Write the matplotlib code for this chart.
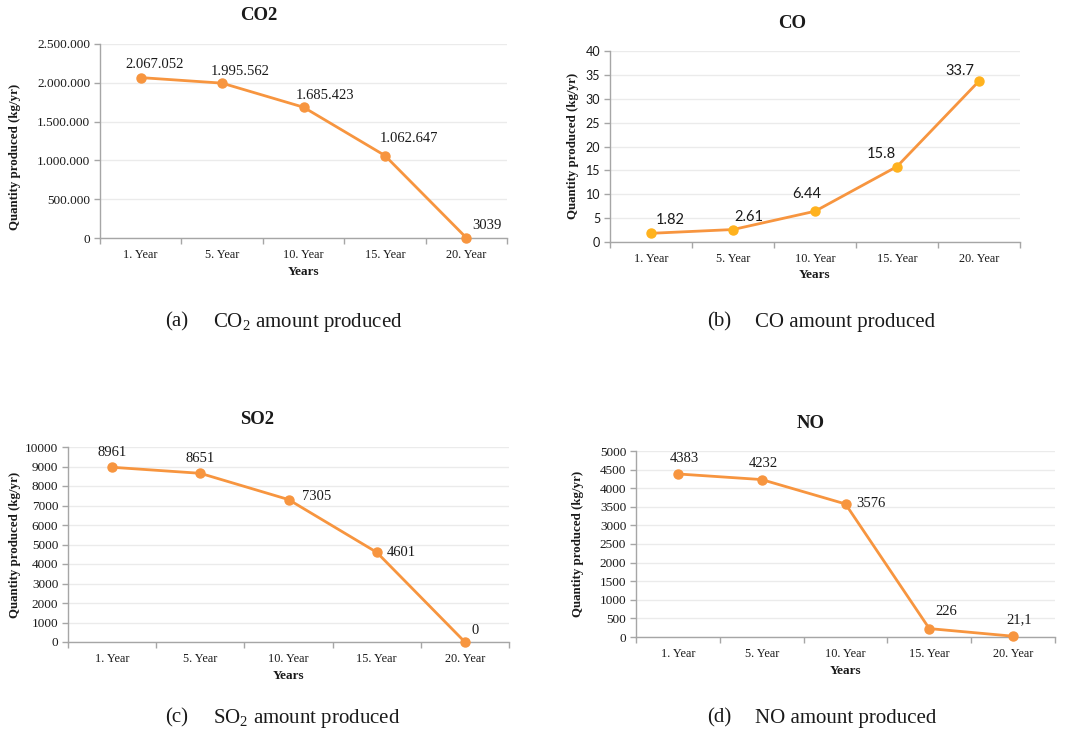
import matplotlib
matplotlib.use("Agg")
import matplotlib.pyplot as plt
from matplotlib.ticker import FixedLocator

plt.rcParams['font.family'] = ['Liberation Serif', 'DejaVu Serif']
plt.rcParams['mathtext.fontset'] = 'custom'
plt.rcParams['mathtext.rm'] = 'Liberation Serif'

# ---------------- data ----------------
categories = ["1. Year", "5. Year", "10. Year", "15. Year", "20. Year"]

co2_values = [2067052, 1995562, 1685423, 1062647, 3039]
co2_labels = ["2.067.052", "1.995.562", "1.685.423", "1.062.647", "3039"]
co2_yticks = [0, 500000, 1000000, 1500000, 2000000, 2500000]
co2_yticklabels = ["0", "500.000", "1.000.000", "1.500.000", "2.000.000", "2.500.000"]

co_values = [1.82, 2.61, 6.44, 15.8, 33.7]
co_labels = ["1.82", "2.61", "6.44", "15.8", "33.7"]
co_yticks = [0, 5, 10, 15, 20, 25, 30, 35, 40]
co_yticklabels = ["0", "5", "10", "15", "20", "25", "30", "35", "40"]

so2_values = [8961, 8651, 7305, 4601, 0]
so2_labels = ["8961", "8651", "7305", "4601", "0"]
so2_yticks = [0, 1000, 2000, 3000, 4000, 5000, 6000, 7000, 8000, 9000, 10000]
so2_yticklabels = [str(v) for v in so2_yticks]

no_values = [4383, 4232, 3576, 226, 21.1]
no_labels = ["4383", "4232", "3576", "226", "21,1"]
no_yticks = [0, 500, 1000, 1500, 2000, 2500, 3000, 3500, 4000, 4500, 5000]
no_yticklabels = [str(v) for v in no_yticks]

titles = ["CO2", "CO", "SO2", "NO"]
captions = [("(a)", "CO$_2$ amount produced"), ("(b)", "CO amount produced"),
            ("(c)", "SO$_2$ amount produced"), ("(d)", "NO amount produced")]

# ---------------- layout (pixels) ----------------
W, H = 1065, 733
fig = plt.figure(figsize=(W / 100, H / 100), dpi=100)
fig.patch.set_facecolor("white")

LINE = "#F7953F"
SPINE = "#A6A6A6"
GRID = "#EBEBEB"
TXT = "#1A1A1A"

panels = [
    dict(rect=(100, 44, 507, 238), values=co2_values, labels=co2_labels,
         yt=co2_yticks, ytl=co2_yticklabels, title=titles[0], title_xy=(259, 16),
         xlab_y=272, ylab_x=15, ylab_y=157, marker=LINE, sans=False,
         offs=[(14, 13), (18, 12), (22, 12), (24, 17), (21, 12)],
         cap_xy=(165, 322)),
    dict(rect=(610, 51, 1020, 242), values=co_values, labels=co_labels,
         yt=co_yticks, ytl=co_yticklabels, title=titles[1], title_xy=(792, 23),
         xlab_y=275, ylab_x=573, ylab_y=146, marker="#FFB21E", sans=True,
         offs=[(19, 13), (16, 13), (-8, 17), (-16, 13), (-19, 10)],
         cap_xy=(707, 322)),
    dict(rect=(68, 447, 509, 642), values=so2_values, labels=so2_labels,
         yt=so2_yticks, ytl=so2_yticklabels, title=titles[2], title_xy=(257, 419),
         xlab_y=676, ylab_x=15, ylab_y=545, marker=LINE, sans=False,
         offs=[(0, 15), (0, 15), (28, 3), (25, 0), (10, 12)],
         cap_xy=(165, 718)),
    dict(rect=(636, 451, 1055, 637), values=no_values, labels=no_labels,
         yt=no_yticks, ytl=no_yticklabels, title=titles[3], title_xy=(811, 424),
         xlab_y=671, ylab_x=578, ylab_y=544, marker=LINE, sans=False,
         offs=[(6, 15), (2, 16), (25, 0), (17, 17), (6, 17)],
         cap_xy=(707, 718)),
]

x = list(range(len(categories)))

for i, p in enumerate(panels):
    l, t, r, b = p["rect"]
    ax = fig.add_axes([l / W, 1 - b / H, (r - l) / W, (b - t) / H])
    ax.plot(x, p["values"], color=LINE, lw=2.0, marker="o", ms=6.5,
            mfc=p["marker"], mec=p["marker"], zorder=3, clip_on=False)
    ax.set_xlim(-0.5, len(categories) - 0.5)
    ax.set_ylim(p["yt"][0], p["yt"][-1])
    for s in ["top", "right"]:
        ax.spines[s].set_visible(False)
    for s in ["left", "bottom"]:
        ax.spines[s].set_color(SPINE)
        ax.spines[s].set_linewidth(1.0)
    ax.set_yticks(p["yt"])
    tick_font = dict(family=["Lato", "DejaVu Sans"]) if p["sans"] else dict(family=["Liberation Serif"])
    ax.set_yticklabels(p["ytl"], fontsize=9.5 if not p["sans"] else 9, color=TXT, **tick_font)
    ax.yaxis.grid(True, color=GRID, lw=1.0)
    ax.set_axisbelow(True)
    ax.tick_params(axis="y", length=4, width=1, color=SPINE, pad=3)
    ax.set_xticks(x)
    ax.set_xticklabels(categories, fontsize=8.8, color=TXT, family=["Liberation Serif"])
    ax.xaxis.set_minor_locator(FixedLocator([k - 0.5 for k in range(len(categories) + 1)]))
    ax.tick_params(axis="x", which="major", length=0, pad=8)
    ax.tick_params(axis="x", which="minor", length=4, width=1, color=SPINE)

    # data labels
    lab_font = dict(family=["Lato", "DejaVu Sans"]) if p["sans"] else dict(family=["Liberation Serif"])
    for xi, v, txt, (dx, dy) in zip(x, p["values"], p["labels"], p["offs"]):
        ax.annotate(txt, (xi, v), xytext=(dx, dy), textcoords="offset pixels",
                    ha="center", va="center", fontsize=10.5, color=TXT,
                    annotation_clip=False, **lab_font)

    # axis labels
    ax.set_xlabel("Years", fontsize=9.5, fontweight="bold", color=TXT)
    ax.xaxis.set_label_coords(0.5, -(p["xlab_y"] - b) / (b - t))
    ax.xaxis.label.set_va("center")
    ax.set_ylabel("Quantity produced (kg/yr)", fontsize=9.3, fontweight="bold", color=TXT)
    ax.yaxis.set_label_coords((p["ylab_x"] - l) / (r - l), (b - p["ylab_y"]) / (b - t))
    ax.yaxis.label.set_va("center")

    # title
    tx, ty = p["title_xy"]
    fig.text(tx / W, 1 - ty / H, p["title"], ha="center", va="center",
             fontsize=13.5, fontweight="bold", color=TXT)

    # caption
    cx, cy = p["cap_xy"]
    fig.text(cx / W, 1 - cy / H, captions[i][0], ha="left", va="center", fontsize=15, color=TXT)
    fig.text((cx + 48) / W, 1 - cy / H, captions[i][1], ha="left", va="center", fontsize=15, color=TXT)

fig.savefig("out.png", dpi=100, facecolor="white")
